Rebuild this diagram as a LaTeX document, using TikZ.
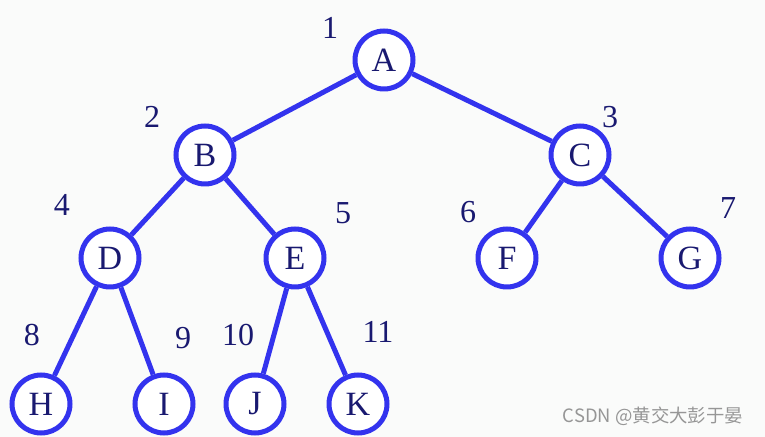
\documentclass[tikz,border=0pt]{standalone}
\usepackage{fontspec}
\setmainfont{Liberation Serif}
\newfontfamily\cjk{Noto Sans CJK SC}
\definecolor{ringblue}{RGB}{51,51,238}
\definecolor{labelnavy}{RGB}{25,25,112}
\definecolor{paper}{RGB}{250,251,250}
\definecolor{markgray}{RGB}{150,150,150}
\begin{document}
\begin{tikzpicture}[x=0.5pt,y=-0.5pt,
  vert/.style={circle,draw=ringblue,line width=2.5pt,fill=white,minimum size=29pt,inner sep=0pt,text=labelnavy,font=\fontsize{17}{20}\selectfont},
  num/.style={text=labelnavy,font=\fontsize{16}{19}\selectfont},
  edge/.style={draw=ringblue,line width=2.5pt}]
\fill[paper] (0,0) rectangle (765,437);
\useasboundingbox (0,0) rectangle (765,437);
% the tree
\node[vert] (A) at (384,60) {A};
\node[vert] (B) at (205,155) {B};
\node[vert] (C) at (580,155) {C};
\node[vert] (D) at (110,258) {D};
\node[vert] (E) at (295,258) {E};
\node[vert] (F) at (507,258) {F};
\node[vert] (G) at (690,258) {G};
\node[vert] (H) at (41,404) {H};
\node[vert] (I) at (164,404) {I};
\node[vert] (J) at (255,404) {J};
\node[vert] (K) at (358,404) {K};
\draw[edge] (A) -- (B) (A) -- (C) (B) -- (D) (B) -- (E) (C) -- (F) (C) -- (G);
\draw[edge] (D) -- (H) (D) -- (I) (E) -- (J) (E) -- (K);
% numbering
\node[num] (n1) at (330,28) {1};
\node[num] (n2) at (152,117) {2};
\node[num] (n3) at (610,117) {3};
\node[num] (n4) at (62,205) {4};
\node[num] (n5) at (343,213) {5};
\node[num] (n6) at (468,212) {6};
\node[num] (n7) at (728,208) {7};
\node[num] (n8) at (32,335) {8};
\node[num] (n9) at (183,338) {9};
\node[num] (n10) at (238,335) {10};
\node[num] (n11) at (378,332) {11};
\node[text=markgray,font=\cjk\fontsize{9.2}{11}\selectfont] (mark) at (653,416) {CSDN @黄交大彭于晏};
\end{tikzpicture}
\end{document}
